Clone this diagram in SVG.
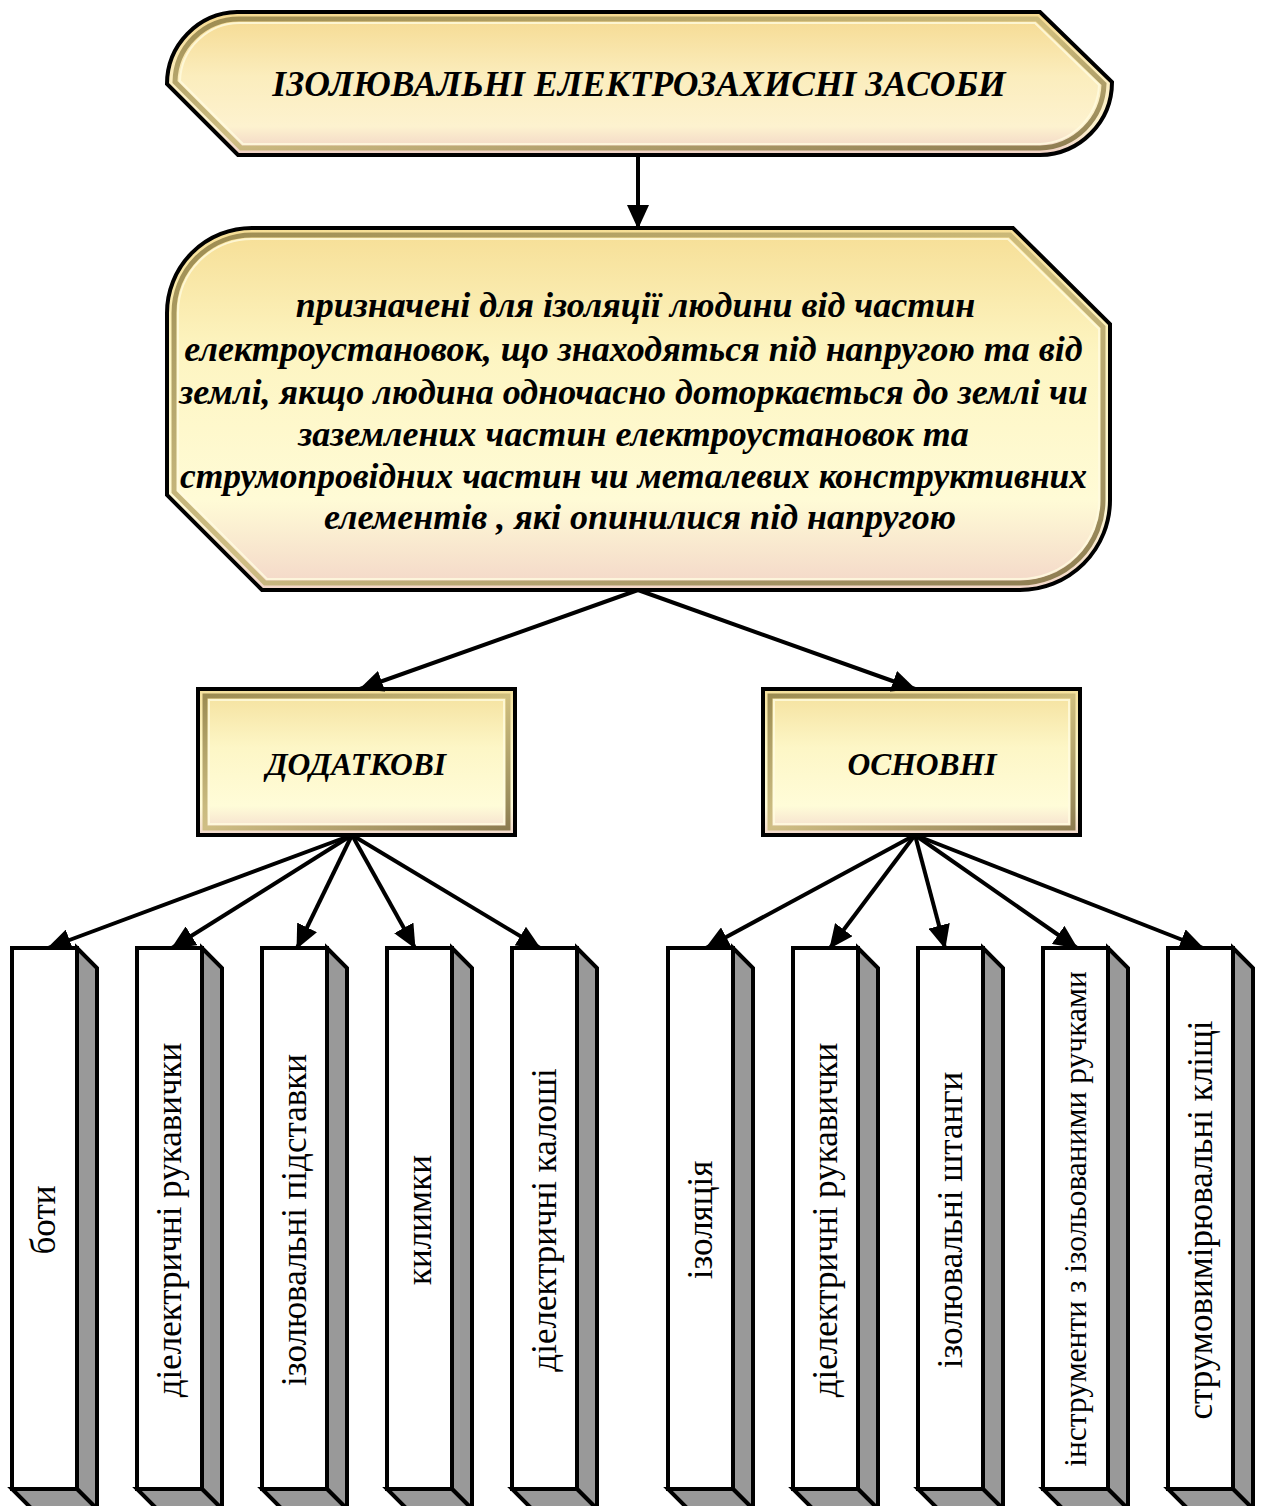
<svg xmlns="http://www.w3.org/2000/svg" width="1261" height="1506" viewBox="0 0 1261 1506">
<style>
.outline{stroke:#000;stroke-width:4;stroke-linejoin:miter}
.bevel{fill:none;stroke:url(#bv);stroke-width:5;opacity:.85}
.bevel2{fill:none;stroke:#fffbe0;stroke-width:2;opacity:.8}
.hdr{font-family:"Liberation Serif","Times New Roman",serif;font-weight:bold;font-style:italic;fill:#000;text-anchor:middle}
.col{font-family:"Liberation Serif","Times New Roman",serif;font-size:35px;fill:#000;text-anchor:middle}
.front{fill:#fff;stroke:#000;stroke-width:4}
.side{fill:#999;stroke:#000;stroke-width:4;stroke-linejoin:miter}
.conn{stroke:#000;stroke-width:4;fill:none}
</style>
<defs>
<linearGradient id="g1" x1="0" y1="0" x2="0" y2="1">
<stop offset="0" stop-color="#f5d98f"/>
<stop offset="0.45" stop-color="#fbedbd"/>
<stop offset="0.8" stop-color="#fdf2cf"/>
<stop offset="1" stop-color="#efcfc4"/>
</linearGradient>
<linearGradient id="g2" x1="0" y1="0" x2="0" y2="1">
<stop offset="0" stop-color="#f6de95"/>
<stop offset="0.35" stop-color="#fdf5c2"/>
<stop offset="0.75" stop-color="#fffbd6"/>
<stop offset="1" stop-color="#f3d6c8"/>
</linearGradient>
<linearGradient id="g3" x1="0" y1="0" x2="0" y2="1">
<stop offset="0" stop-color="#f4e09c"/>
<stop offset="0.4" stop-color="#fdf6c6"/>
<stop offset="0.8" stop-color="#fffcd8"/>
<stop offset="1" stop-color="#f2d8cc"/>
</linearGradient>
<linearGradient id="bv" x1="0" y1="0" x2="1" y2="1">
<stop offset="0" stop-color="#8c7c44"/>
<stop offset="0.5" stop-color="#c9b878"/>
<stop offset="1" stop-color="#7a6a3a"/>
</linearGradient>
<marker id="ah" viewBox="0 0 24 22" refX="23" refY="11" markerWidth="24" markerHeight="22" markerUnits="userSpaceOnUse" orient="auto">
<path d="M0,0 L24,11 L0,22 Z" fill="#000"/>
</marker>
</defs>

<g id="title">
<path class="outline" fill="url(#g1)" d="M237 12 L1040 12 L1112 82 A73 73 0 0 1 1040 155 L238 155 L167 84 A72 72 0 0 1 237 12 Z"/>
<path class="bevel" d="M239 19 L1037 19 L1104 84 A66 66 0 0 1 1040 148 L241 148 L175 82 A64 64 0 0 1 239 19 Z"/>
<path class="bevel2" d="M241 23 L1035 23 L1099 85 A62 62 0 0 1 1040 144 L243 144 L180 81 A60 60 0 0 1 241 23 Z"/>
<text class="hdr" x="639" y="96" font-size="35.5">ІЗОЛЮВАЛЬНІ ЕЛЕКТРОЗАХИСНІ ЗАСОБИ</text>
</g>

<g id="definition">
<path class="outline" fill="url(#g2)" d="M252 228 L1013 228 L1110 324 L1110 500 A90 90 0 0 1 1020 590 L262 590 L167 495 L167 313 A85 85 0 0 1 252 228 Z"/>
<path class="bevel" d="M252 235 L1010 235 L1103 327 L1103 500 A83 83 0 0 1 1020 583 L265 583 L174 492 L174 313 A78 78 0 0 1 252 235 Z"/>
<path class="bevel2" d="M253 239 L1008 239 L1099 329 L1099 500 A79 79 0 0 1 1020 579 L267 579 L178 490 L178 313 A74 74 0 0 1 253 239 Z"/>
<text class="hdr" font-size="36">
<tspan x="640" y="317">призначені для ізоляції людини від частин</tspan>
<tspan x="638" y="361">електроустановок, що знаходяться під напругою та від</tspan>
<tspan x="638" y="404">землі, якщо людина одночасно доторкається до землі чи</tspan>
<tspan x="638" y="446">заземлених частин електроустановок та</tspan>
<tspan x="638" y="488" font-size="35.5">струмопровідних частин чи металевих конструктивних</tspan>
<tspan x="640" y="529">елементів , які опинилися під напругою</tspan>
</text>
</g>

<g id="dodatkovi">
<rect class="outline" fill="url(#g3)" x="198" y="689" width="317" height="146"/>
<rect class="bevel" x="205" y="696" width="303" height="132"/>
<rect class="bevel2" x="209" y="700" width="295" height="124"/>
<text class="hdr" x="356" y="775" font-size="31.5">ДОДАТКОВІ</text>
</g>

<g id="osnovni">
<rect class="outline" fill="url(#g3)" x="763" y="689" width="317" height="146"/>
<rect class="bevel" x="770" y="696" width="303" height="132"/>
<rect class="bevel2" x="774" y="700" width="295" height="124"/>
<text class="hdr" x="922" y="775" font-size="31.5">ОСНОВНІ</text>
</g>

<g id="connectors">
<line class="conn" x1="638" y1="155" x2="638" y2="228" marker-end="url(#ah)"/>
<line class="conn" x1="638" y1="590" x2="360" y2="689" marker-end="url(#ah)"/>
<line class="conn" x1="638" y1="590" x2="915" y2="689" marker-end="url(#ah)"/>
<line class="conn" x1="352" y1="835" x2="48" y2="948" marker-end="url(#ah)"/>
<line class="conn" x1="352" y1="835" x2="172" y2="948" marker-end="url(#ah)"/>
<line class="conn" x1="352" y1="835" x2="297" y2="948" marker-end="url(#ah)"/>
<line class="conn" x1="352" y1="835" x2="415" y2="948" marker-end="url(#ah)"/>
<line class="conn" x1="352" y1="835" x2="540" y2="948" marker-end="url(#ah)"/>
<line class="conn" x1="915" y1="835" x2="706" y2="948" marker-end="url(#ah)"/>
<line class="conn" x1="915" y1="835" x2="830" y2="948" marker-end="url(#ah)"/>
<line class="conn" x1="915" y1="835" x2="945" y2="948" marker-end="url(#ah)"/>
<line class="conn" x1="915" y1="835" x2="1077" y2="948" marker-end="url(#ah)"/>
<line class="conn" x1="915" y1="835" x2="1203" y2="948" marker-end="url(#ah)"/>
</g>

<g id="c1">
<path class="side" d="M77 948 L97 968 L97 1509 L77 1489 Z"/>
<path class="side" d="M12 1489 L77 1489 L97 1509 L32 1509 Z"/>
<rect class="front" x="12" y="948" width="65" height="541"/>
<text class="col" transform="translate(55 1220) rotate(-90)">боти</text>
</g>
<g id="c2">
<path class="side" d="M202 948 L222 968 L222 1509 L202 1489 Z"/>
<path class="side" d="M137 1489 L202 1489 L222 1509 L157 1509 Z"/>
<rect class="front" x="137" y="948" width="65" height="541"/>
<text class="col" transform="translate(181 1220) rotate(-90)">діелектричні рукавички</text>
</g>
<g id="c3">
<path class="side" d="M327 948 L347 968 L347 1509 L327 1489 Z"/>
<path class="side" d="M262 1489 L327 1489 L347 1509 L282 1509 Z"/>
<rect class="front" x="262" y="948" width="65" height="541"/>
<text class="col" transform="translate(306 1220) rotate(-90)">ізолювальні підставки</text>
</g>
<g id="c4">
<path class="side" d="M452 948 L472 968 L472 1509 L452 1489 Z"/>
<path class="side" d="M387 1489 L452 1489 L472 1509 L407 1509 Z"/>
<rect class="front" x="387" y="948" width="65" height="541"/>
<text class="col" transform="translate(431 1220) rotate(-90)">килимки</text>
</g>
<g id="c5">
<path class="side" d="M577 948 L597 968 L597 1509 L577 1489 Z"/>
<path class="side" d="M512 1489 L577 1489 L597 1509 L532 1509 Z"/>
<rect class="front" x="512" y="948" width="65" height="541"/>
<text class="col" transform="translate(556 1220) rotate(-90)">діелектричні калоші</text>
</g>
<g id="c6">
<path class="side" d="M733 948 L753 968 L753 1509 L733 1489 Z"/>
<path class="side" d="M668 1489 L733 1489 L753 1509 L688 1509 Z"/>
<rect class="front" x="668" y="948" width="65" height="541"/>
<text class="col" transform="translate(712 1220) rotate(-90)">ізоляція</text>
</g>
<g id="c7">
<path class="side" d="M858 948 L878 968 L878 1509 L858 1489 Z"/>
<path class="side" d="M793 1489 L858 1489 L878 1509 L813 1509 Z"/>
<rect class="front" x="793" y="948" width="65" height="541"/>
<text class="col" transform="translate(837 1220) rotate(-90)">діелектричні рукавички</text>
</g>
<g id="c8">
<path class="side" d="M983 948 L1003 968 L1003 1509 L983 1489 Z"/>
<path class="side" d="M918 1489 L983 1489 L1003 1509 L938 1509 Z"/>
<rect class="front" x="918" y="948" width="65" height="541"/>
<text class="col" transform="translate(962 1220) rotate(-90)">ізолювальні штанги</text>
</g>
<g id="c9">
<path class="side" d="M1108 948 L1128 968 L1128 1509 L1108 1489 Z"/>
<path class="side" d="M1043 1489 L1108 1489 L1128 1509 L1063 1509 Z"/>
<rect class="front" x="1043" y="948" width="65" height="541"/>
<text class="col" style="font-size:31.5px" transform="translate(1086 1219) rotate(-90)">інструменти з ізольованими ручками</text>
</g>
<g id="c10">
<path class="side" d="M1233 948 L1253 968 L1253 1509 L1233 1489 Z"/>
<path class="side" d="M1168 1489 L1233 1489 L1253 1509 L1188 1509 Z"/>
<rect class="front" x="1168" y="948" width="65" height="541"/>
<text class="col" transform="translate(1212 1220) rotate(-90)">струмовимірювальні кліщі</text>
</g>
</svg>
